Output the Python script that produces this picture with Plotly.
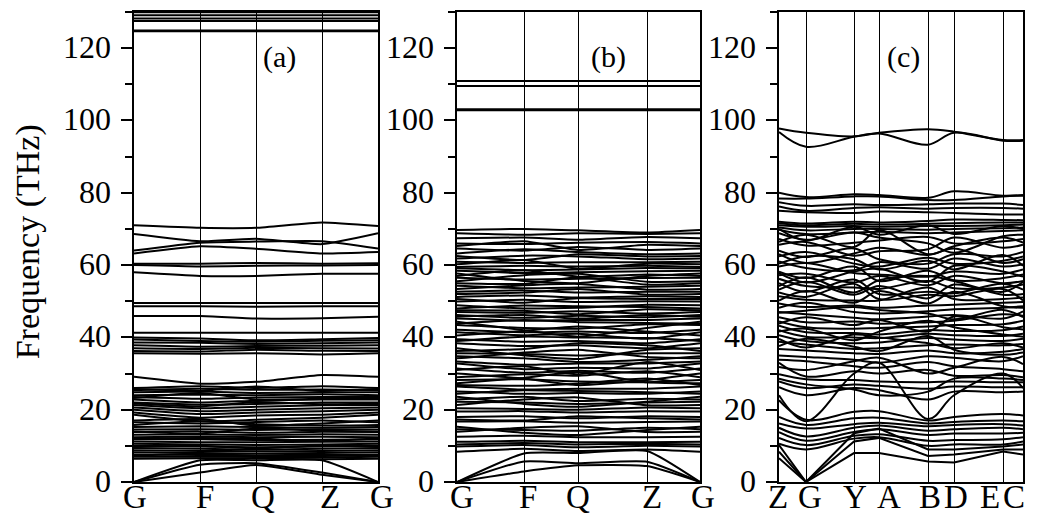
import plotly.graph_objects as go

# ---------------- k-paths ----------------
k_labels_ab = ["G", "F", "Q", "Z", "G"]
k_pos_a = [0, 66, 122, 188, 244]
k_pos_b = [0, 67, 121, 190, 243]
k_labels_c = ["Z", "G", "Y", "A", "B", "D", "E", "C"]
k_pos_c = [0, 27, 75, 100, 149, 175, 224, 244]

# ---------------- panel (a): values at G, F, Q, Z, G ----------------
bands_a_high = [
    [129.9, 129.9, 129.9, 129.9, 129.9],
    [129.1, 129.1, 129.1, 129.1, 129.1],
    [128.2, 128.2, 128.2, 128.2, 128.2],
    [127.5, 127.5, 127.5, 127.5, 127.5],
    [124.9, 124.9, 124.9, 124.9, 124.9],
    [124.7, 124.7, 124.7, 124.7, 124.7],
]
bands_a_mid = [
    [71.0, 70.3, 70.3, 71.8, 70.8],
    [68.6, 66.6, 67.3, 65.8, 68.8],
    [64.0, 66.2, 66.5, 66.6, 64.6],
    [63.2, 65.2, 64.5, 63.2, 63.6],
    [60.4, 60.4, 60.6, 60.4, 60.5],
    [60.0, 59.6, 59.8, 59.9, 60.0],
    [58.0, 57.0, 57.0, 57.6, 57.6],
    [49.5, 49.5, 49.5, 49.5, 49.5],
    [48.6, 48.6, 48.5, 48.6, 48.6],
    [45.9, 45.9, 45.2, 45.3, 45.7],
    [41.3, 41.3, 41.3, 41.3, 41.3],
    [40.0, 39.7, 39.2, 39.5, 39.8],
    [39.4, 39.0, 38.8, 39.1, 39.2],
    [38.6, 38.5, 38.2, 38.4, 38.6],
    [37.8, 37.4, 37.6, 37.7, 37.8],
    [37.0, 36.8, 37.1, 37.0, 36.9],
    [36.2, 36.1, 36.6, 36.3, 36.2],
    [35.6, 35.5, 35.6, 35.3, 35.6],
    [29.1, 27.2, 27.7, 29.6, 29.1],
]
bands_a_block = [
    [26.0, 26.5, 26.0, 26.5, 26.0],
    [25.7, 25.2, 26.4, 25.2, 25.7],
    [25.4, 25.8, 25.5, 25.6, 25.4],
    [24.8, 25.0, 24.6, 24.8, 24.8],
    [24.0, 24.2, 24.0, 24.3, 24.0],
    [23.5, 23.0, 23.4, 23.5, 23.5],
    [23.2, 24.6, 22.8, 23.0, 23.2],
    [22.8, 22.0, 22.5, 22.8, 22.8],
    [22.0, 21.4, 21.6, 22.0, 22.0],
    [21.7, 20.9, 22.1, 21.5, 21.7],
    [21.3, 20.4, 20.8, 21.2, 21.3],
    [20.6, 19.6, 20.0, 20.4, 20.6],
    [20.0, 18.8, 19.2, 19.6, 20.0],
    [19.2, 17.8, 18.4, 18.6, 19.2],
    [18.6, 16.8, 17.2, 17.8, 18.6],
    [17.0, 17.4, 15.6, 16.2, 17.0],
    [16.5, 16.2, 16.6, 17.0, 16.5],
    [15.8, 16.8, 16.0, 15.6, 15.8],
    [15.2, 15.4, 15.2, 15.0, 15.2],
    [14.5, 14.6, 14.4, 14.6, 14.5],
    [14.0, 13.4, 14.8, 14.2, 14.0],
    [13.8, 14.0, 13.6, 13.9, 13.8],
    [13.1, 13.2, 13.0, 13.2, 13.1],
    [12.4, 12.6, 12.4, 12.5, 12.4],
    [12.0, 12.2, 12.0, 11.3, 12.0],
    [11.8, 11.8, 11.6, 11.7, 11.8],
    [11.2, 11.0, 11.0, 11.1, 11.2],
    [10.6, 10.4, 10.2, 10.4, 10.6],
    [10.0, 9.8, 9.6, 9.8, 10.0],
    [9.7, 10.0, 9.3, 10.1, 9.7],
    [9.4, 9.2, 9.0, 9.2, 9.4],
    [8.8, 8.6, 8.5, 8.6, 8.8],
    [8.2, 8.0, 7.9, 8.0, 8.2],
    [7.6, 7.5, 7.4, 7.5, 7.6],
    [7.3, 7.8, 7.2, 7.2, 7.3],
    [7.0, 7.0, 6.9, 6.8, 7.0],
    [6.4, 6.6, 6.5, 6.3, 6.4],
]
bands_a_acoustic = [
    [0.0, 2.6, 4.7, 2.0, 0.0],
    [0.0, 4.8, 5.2, 2.6, 0.0],
    [0.0, 6.0, 6.0, 6.0, 0.0],
]

# ---------------- panel (b): values at G, F, Q, Z, G ----------------
bands_b_high = [
    [110.9, 110.9, 110.9, 110.9, 110.9],
    [109.5, 109.5, 109.5, 109.5, 109.5],
    [103.1, 103.1, 103.1, 103.1, 103.1],
    [102.8, 102.8, 102.8, 102.8, 102.8],
]
bands_b_low = [
    [69.7, 70.0, 69.6, 69.0, 69.7],
    [68.8, 68.4, 68.8, 68.6, 68.8],
    [67.4, 67.6, 67.0, 67.8, 67.4],
    [66.0, 65.8, 66.2, 66.4, 66.0],
    [65.3, 66.6, 64.2, 65.6, 65.3],
    [64.6, 64.0, 65.0, 64.2, 64.6],
    [63.2, 64.4, 63.6, 63.0, 63.2],
    [62.5, 61.4, 63.0, 62.4, 62.5],
    [61.8, 62.6, 62.4, 61.6, 61.8],
    [60.9, 60.6, 60.8, 60.8, 60.9],
    [60.2, 61.4, 59.0, 60.4, 60.2],
    [59.5, 59.8, 59.6, 59.8, 59.5],
    [59.1, 58.6, 58.8, 59.2, 59.1],
    [58.4, 57.8, 58.0, 58.3, 58.4],
    [57.7, 55.6, 55.0, 57.0, 57.7],
    [57.0, 58.6, 56.8, 57.4, 57.0],
    [56.5, 56.0, 56.2, 56.4, 56.5],
    [55.5, 57.2, 57.6, 55.4, 55.5],
    [55.0, 54.8, 56.6, 54.6, 55.0],
    [54.3, 53.6, 53.8, 54.0, 54.3],
    [53.4, 54.4, 54.8, 53.2, 53.4],
    [52.6, 53.0, 52.4, 52.6, 52.6],
    [52.0, 52.4, 53.4, 51.8, 52.0],
    [51.2, 51.6, 51.0, 51.4, 51.2],
    [50.6, 49.6, 50.8, 50.6, 50.6],
    [49.9, 50.4, 49.8, 50.0, 49.9],
    [48.9, 48.0, 48.2, 49.0, 48.9],
    [48.0, 48.8, 48.6, 48.4, 48.0],
    [47.5, 47.4, 46.4, 47.8, 47.5],
    [47.0, 46.8, 47.2, 46.6, 47.0],
    [46.2, 45.4, 46.0, 45.6, 46.2],
    [45.7, 46.2, 45.2, 46.2, 45.7],
    [45.2, 44.6, 44.8, 44.8, 45.2],
    [44.3, 42.0, 40.2, 42.6, 44.3],
    [43.8, 44.8, 44.2, 44.0, 43.8],
    [43.4, 42.6, 42.4, 43.6, 43.4],
    [42.1, 41.4, 41.6, 41.2, 42.1],
    [41.4, 40.6, 41.0, 39.6, 41.4],
    [40.5, 41.8, 43.0, 41.6, 40.5],
    [39.5, 38.8, 39.0, 38.4, 39.5],
    [39.0, 40.2, 40.0, 39.8, 39.0],
    [38.4, 37.6, 37.8, 37.0, 38.4],
    [37.0, 35.0, 34.0, 36.6, 37.0],
    [36.2, 36.8, 38.4, 37.8, 36.2],
    [35.6, 35.4, 35.0, 35.6, 35.6],
    [34.8, 34.2, 33.2, 33.8, 34.8],
    [34.2, 35.8, 36.6, 34.6, 34.2],
    [33.3, 32.4, 32.8, 32.8, 33.3],
    [32.8, 31.2, 31.6, 31.4, 32.8],
    [31.4, 30.2, 30.8, 30.2, 31.4],
    [31.0, 32.0, 29.8, 33.2, 31.0],
    [30.0, 28.6, 26.8, 28.2, 30.0],
    [29.0, 29.8, 29.4, 30.6, 29.0],
    [28.2, 28.4, 27.8, 27.6, 28.2],
    [27.3, 28.8, 30.4, 27.6, 27.3],
    [26.8, 26.6, 27.2, 28.6, 26.8],
    [26.4, 25.6, 25.8, 25.8, 26.4],
    [25.0, 24.4, 24.6, 24.4, 25.0],
    [24.4, 25.4, 25.2, 24.8, 24.4],
    [23.6, 21.6, 20.8, 22.2, 23.6],
    [22.8, 23.6, 22.4, 23.0, 22.8],
    [22.2, 22.0, 21.6, 22.0, 22.2],
    [21.3, 22.8, 23.4, 21.2, 21.3],
    [20.4, 20.2, 20.0, 20.6, 20.4],
    [19.5, 19.6, 19.2, 19.6, 19.5],
    [18.0, 18.2, 17.6, 18.2, 18.0],
    [17.3, 17.0, 18.2, 17.6, 17.3],
    [16.7, 16.8, 16.4, 16.6, 16.7],
    [15.3, 13.6, 13.0, 14.4, 15.3],
    [14.6, 14.4, 14.2, 15.0, 14.6],
    [13.9, 15.0, 15.4, 13.8, 13.9],
    [12.5, 12.8, 12.4, 12.4, 12.5],
    [11.1, 11.4, 11.0, 11.0, 11.1],
    [10.4, 10.8, 10.4, 10.6, 10.4],
    [9.8, 10.2, 9.6, 10.0, 9.8],
    [8.4, 9.2, 8.6, 9.0, 8.4],
]
bands_b_acoustic = [
    [0.0, 2.9, 4.6, 4.4, 0.0],
    [0.0, 5.7, 5.2, 5.6, 0.0],
    [0.0, 7.9, 8.0, 8.6, 0.0],
]

# ---------------- panel (c): values at Z, G, Y, A, B, D, E, C ----------------
bands_c = [
    [97.8, 96.6, 95.6, 96.6, 97.6, 96.9, 94.6, 94.6],
    [96.8, 92.7, 95.5, 96.4, 93.3, 96.6, 94.4, 94.4],
    [80.0, 78.8, 79.6, 79.4, 78.6, 80.4, 79.2, 79.4],
    [78.4, 78.4, 79.0, 79.0, 78.0, 78.0, 79.0, 79.2],
    [77.4, 76.4, 76.8, 76.6, 76.8, 77.0, 77.0, 76.6],
    [76.2, 75.0, 75.8, 76.0, 75.6, 75.8, 75.8, 75.6],
    [75.0, 74.6, 74.4, 74.8, 74.6, 74.4, 74.0, 74.0],
    [72.0, 71.5, 72.0, 71.8, 72.2, 72.6, 72.5, 72.4],
    [71.6, 71.0, 71.4, 71.2, 71.4, 71.6, 71.8, 71.8],
    [71.0, 70.6, 70.8, 70.6, 70.8, 70.8, 71.0, 71.2],
    [70.4, 69.6, 70.0, 70.0, 69.8, 70.0, 70.2, 70.4],
    [70.0, 66.8, 70.6, 68.4, 71.0, 68.6, 70.8, 70.0],
    [69.8, 68.6, 69.0, 69.2, 68.8, 69.0, 69.4, 69.6],
    [68.8, 67.0, 69.0, 67.6, 66.0, 63.4, 68.0, 68.4],
    [67.2, 65.4, 66.2, 66.8, 67.8, 66.0, 66.6, 67.2],
    [66.4, 68.4, 65.0, 69.6, 63.0, 65.2, 67.6, 66.2],
    [65.6, 66.4, 62.6, 63.8, 64.4, 67.6, 64.8, 65.6],
    [64.0, 62.2, 64.6, 61.6, 60.4, 63.0, 62.4, 63.6],
    [63.0, 60.6, 63.2, 64.8, 62.8, 64.6, 60.6, 61.6],
    [62.4, 63.6, 60.4, 59.6, 62.0, 60.4, 61.2, 62.4],
    [61.0, 59.2, 58.6, 60.8, 59.0, 61.8, 59.6, 60.2],
    [60.4, 62.4, 61.6, 58.8, 61.2, 58.8, 62.8, 59.8],
    [59.6, 60.6, 57.8, 57.4, 56.8, 58.2, 57.6, 58.8],
    [58.2, 56.4, 59.6, 55.6, 58.4, 55.8, 56.4, 57.4],
    [57.8, 55.2, 58.2, 59.0, 55.4, 59.8, 58.2, 56.8],
    [57.2, 57.6, 55.2, 57.0, 54.4, 57.0, 55.0, 55.6],
    [56.2, 54.2, 53.8, 53.4, 55.6, 53.6, 53.8, 54.6],
    [55.0, 52.6, 56.0, 52.0, 52.6, 52.2, 54.8, 53.2],
    [54.2, 56.6, 52.4, 55.8, 57.0, 55.6, 52.6, 55.4],
    [53.2, 55.4, 51.8, 54.2, 50.8, 54.6, 51.8, 52.0],
    [52.4, 51.2, 54.8, 50.6, 51.8, 51.4, 53.4, 50.2],
    [51.4, 50.4, 50.2, 50.2, 53.8, 50.6, 50.6, 51.0],
    [50.2, 52.8, 49.6, 52.8, 49.4, 52.6, 48.6, 48.2],
    [49.4, 48.4, 48.8, 48.2, 48.8, 49.0, 49.6, 49.8],
    [48.2, 49.6, 47.0, 46.6, 47.2, 47.8, 48.2, 48.6],
    [47.0, 46.4, 45.4, 45.0, 45.8, 46.2, 45.2, 47.2],
    [46.8, 47.4, 48.4, 47.6, 46.6, 45.0, 47.6, 45.6],
    [45.6, 44.2, 44.4, 43.8, 44.2, 44.6, 46.4, 46.0],
    [44.4, 42.8, 42.4, 42.6, 43.0, 43.4, 43.6, 44.6],
    [43.8, 45.6, 43.4, 44.8, 41.6, 45.8, 42.8, 42.2],
    [43.2, 41.4, 41.2, 40.8, 42.0, 41.8, 42.0, 43.0],
    [42.0, 40.2, 40.0, 39.8, 41.0, 40.6, 40.4, 41.0],
    [41.6, 42.4, 39.2, 41.6, 44.6, 42.8, 40.8, 40.2],
    [40.6, 39.0, 38.4, 38.6, 39.8, 39.4, 39.0, 39.6],
    [39.6, 37.2, 40.8, 40.0, 38.4, 37.0, 38.4, 37.2],
    [38.8, 38.0, 36.8, 37.0, 37.8, 38.0, 37.8, 38.2],
    [37.6, 39.6, 37.4, 36.2, 40.4, 36.6, 35.2, 35.8],
    [36.8, 36.4, 35.6, 35.4, 36.4, 35.6, 36.0, 36.8],
    [35.0, 34.6, 33.8, 33.0, 34.8, 34.4, 33.4, 34.8],
    [33.8, 33.4, 32.0, 31.6, 33.2, 32.0, 31.2, 30.6],
    [33.0, 29.2, 30.6, 30.0, 31.0, 29.4, 29.6, 29.0],
    [31.8, 31.0, 33.4, 34.4, 30.0, 31.6, 34.6, 32.6],
    [29.8, 28.4, 28.2, 27.8, 27.6, 27.8, 27.6, 27.6],
    [28.6, 27.0, 25.6, 24.0, 25.0, 28.6, 28.6, 28.2],
    [27.8, 26.0, 27.0, 26.6, 25.8, 26.4, 26.2, 26.2],
    [26.2, 24.0, 26.0, 25.4, 22.8, 25.0, 24.8, 25.0],
    [24.0, 16.8, 30.0, 33.0, 17.4, 24.0, 30.0, 26.0],
    [22.6, 17.2, 19.4, 19.6, 17.0, 18.0, 18.8, 18.4],
    [18.0, 15.8, 17.6, 17.8, 16.2, 16.6, 17.0, 16.8],
    [16.2, 14.8, 16.0, 16.4, 15.4, 15.8, 16.0, 15.6],
    [15.0, 12.6, 15.0, 15.6, 14.2, 14.6, 15.0, 14.6],
    [13.8, 11.4, 13.8, 14.6, 13.0, 13.4, 13.4, 13.6],
    [12.2, 10.2, 12.8, 13.2, 11.4, 11.6, 11.8, 12.4],
    [10.6, 9.0, 12.0, 12.4, 10.0, 10.4, 10.4, 11.2],
]
bands_c_acoustic = [
    [10.2, 0.0, 13.5, 14.8, 9.0, 9.0, 9.8, 10.4],
    [8.4, 0.0, 11.2, 12.2, 7.2, 7.6, 9.0, 9.0],
    [6.6, 0.0, 8.0, 8.0, 5.7, 5.4, 8.4, 7.6],
]

# ---------------- axis ticks / labels ----------------
y_major = [0, 20, 40, 60, 80, 100, 120]
y_labels = ["0", "20", "40", "60", "80", "100", "120"]
panel_tags = ["(a)", "(b)", "(c)"]
y_title = "Frequency (THz)"

FONT = "Liberation Serif, Times New Roman, serif"
fig = go.Figure()


def add_bands(bands, kpos, xa, ya, width, shape, smooth=1.0):
    for b in bands:
        line = dict(color="black", width=width, shape=shape)
        if shape == "spline":
            line["smoothing"] = smooth
        fig.add_trace(go.Scatter(
            x=kpos, y=b, mode="lines", line=line,
            xaxis=xa, yaxis=ya, showlegend=False, hoverinfo="skip"))


add_bands(bands_a_high + bands_a_mid + bands_a_block + bands_a_acoustic, k_pos_a, "x", "y", 2.0, "spline", 0.5)
add_bands(bands_b_high + bands_b_low + bands_b_acoustic, k_pos_b, "x2", "y2", 2.0, "spline", 0.5)
add_bands(bands_c, k_pos_c, "x3", "y3", 2.0, "spline", 1.0)
add_bands(bands_c_acoustic, k_pos_c, "x3", "y3", 2.0, "linear")

# page body adds an 8px margin; the figure is sized so it fits the 1046x529 window
OFF = 8
W, H = 1046 - OFF, 529 - OFF
domains = [((134 - OFF) / W, (378 - OFF) / W),
           ((457 - OFF) / W, (700 - OFF) / W),
           ((779 - OFF) / W, (1023 - OFF) / W)]
kposes = [k_pos_a, k_pos_b, k_pos_c]
klabels = [k_labels_ab, k_labels_ab, k_labels_c]
label_shift = [
    [1, 5, 7, 8, 4],
    [5, 4, 0, 5, 3],
    [-1, 4, 1, 10, 2, 2, -13, -9],
]

layout = dict(
    width=W, height=H,
    margin=dict(l=0, r=0, t=12 - OFF, b=H - (482 - OFF)),
    plot_bgcolor="white", paper_bgcolor="white",
    font=dict(family=FONT, color="black"),
    showlegend=False,
)
annotations = []
tag_x = [145, 151, 124]
for i in range(3):
    sfx = "" if i == 0 else str(i + 1)
    kp = kposes[i]
    layout["xaxis" + sfx] = dict(
        domain=list(domains[i]), range=[kp[0], kp[-1]], anchor="y" + sfx,
        tickmode="array", tickvals=kp, showticklabels=False,
        ticks="", showgrid=True, gridcolor="black", gridwidth=1.4,
        showline=True, mirror=True, linecolor="black", linewidth=2,
        zeroline=False, automargin=False,
    )
    layout["yaxis" + sfx] = dict(
        domain=[0, 1], range=[0, 130], anchor="x" + sfx,
        tickmode="array", tickvals=y_major, showticklabels=False,
        ticks="outside", ticklen=11, tickwidth=2, tickcolor="black",
        minor=dict(dtick=10, tick0=0, ticks="outside", ticklen=7, tickwidth=2,
                   tickcolor="black", showgrid=False),
        showgrid=False, zeroline=False,
        showline=True, mirror=True, linecolor="black", linewidth=2,
        automargin=False,
    )
    for yv, yl in zip(y_major, y_labels):
        annotations.append(dict(
            x=kp[0], y=yv, xref="x" + sfx, yref="y" + sfx, text=yl, showarrow=False,
            xanchor="right", yanchor="middle", xshift=-21, yshift=1,
            font=dict(size=32, family=FONT)))
    annotations.append(dict(
        x=tag_x[i], y=117.5, xref="x" + sfx, yref="y" + sfx, text=panel_tags[i],
        showarrow=False, font=dict(size=30, family=FONT)))
    for kx, lab, sh in zip(kp, klabels[i], label_shift[i]):
        annotations.append(dict(
            x=kx, y=0, xref="x" + sfx, yref="y" + sfx, text=lab, showarrow=False,
            yanchor="top", yshift=5, xshift=sh, font=dict(size=33, family=FONT)))

annotations.append(dict(
    x=(28 - OFF) / W, y=0.51, xref="paper", yref="paper", text=y_title, textangle=-90,
    showarrow=False, xanchor="center", yanchor="middle",
    font=dict(size=34, family=FONT)))
layout["annotations"] = annotations

fig.update_layout(**layout)
fig.write_html("out.html")
